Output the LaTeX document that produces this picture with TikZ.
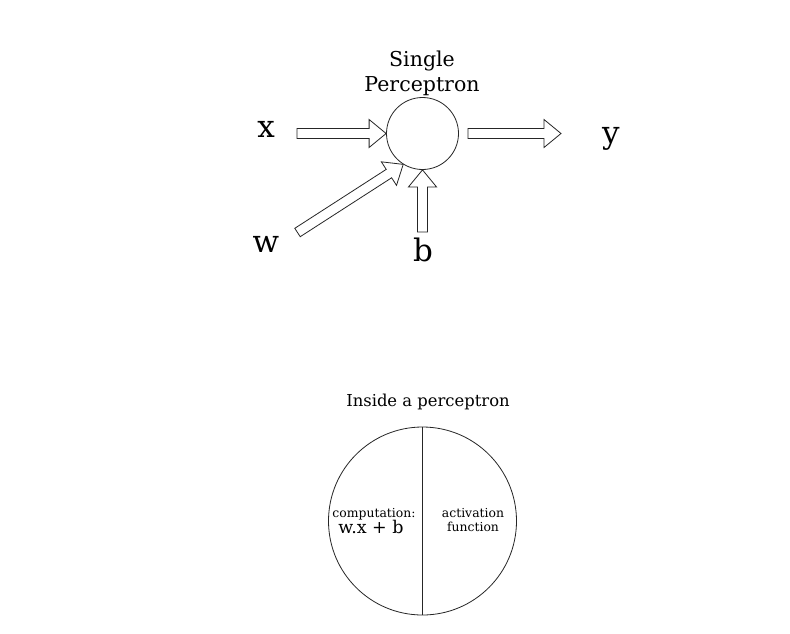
\documentclass[tikz,border=0pt]{standalone}
\usepackage{fontspec}
\setmainfont{DejaVu Serif}
\usetikzlibrary{calc}
\tikzset{
  blk/.style={draw=black!85, line width=0.8pt, fill=white, line join=miter},
  neuron/.style={circle, draw=black!85, line width=0.8pt, inner sep=0pt},
  lbl/.style={inner sep=0pt, font=\fontsize{31}{36}\selectfont},
  ttl/.style={inner sep=0pt, anchor=base, font=\fontsize{20.5}{24}\selectfont},
  small/.style={inner sep=0pt, anchor=base, font=\fontsize{12.4}{15}\selectfont}
}
\newcommand\blockarr[2]{%
  \path ($(#2)!17pt!(#1)$) coordinate (hb);
  \draw[blk] ($(#1)!5pt!90:(#2)$) -- ($(hb)!5pt!-90:(#1)$) -- ($(hb)!14pt!-90:(#1)$) -- (#2)
    -- ($(hb)!14pt!90:(#1)$) -- ($(hb)!5pt!90:(#1)$) -- ($(#1)!5pt!-90:(#2)$) -- cycle;}
\begin{document}
\begin{tikzpicture}[x=1pt,y=-1pt]
\useasboundingbox[fill=white] (0,0) rectangle (790,633);
% top perceptron
\node[neuron, minimum size=72pt] (p) at (422.5,133.5) {};
\node[ttl] (t1) at (422,66) {Single};
\node[ttl] (t2) at (422,91) {Perceptron};
\node[lbl] (x) at (266,129.5) {x};
\node[lbl] (w) at (266,244.5) {w};
\node[lbl] (b) at (423,250) {b};
\node[lbl] (y) at (611,139) {y};
\coordinate (xs) at (297,133.5);
\coordinate (ws) at (297.5,232.5);
\coordinate (bs) at (422.5,232);
\coordinate (ye) at (561,133.5);
\coordinate (ys) at (468,133.5);
\blockarr{xs}{p.west}
\blockarr{ws}{p.238}
\blockarr{bs}{p.south}
\blockarr{ys}{ye}
% inside
\node[ttl, font=\fontsize{16.4}{20}\selectfont] (it) at (428,406) {Inside a perceptron};
\node[neuron, minimum size=188pt] (c) at (422.5,521) {};
\draw[black!85, line width=0.8pt] (c.north) -- (c.south);
\node[small] (comp) at (374,517) {computation:};
\node[small, font=\fontsize{17.5}{20}\selectfont] (eq) at (371,533) {w.x + b};
\node[small] (act) at (473,517) {activation};
\node[small] (fun) at (473,531) {function};
\end{tikzpicture}
\end{document}
